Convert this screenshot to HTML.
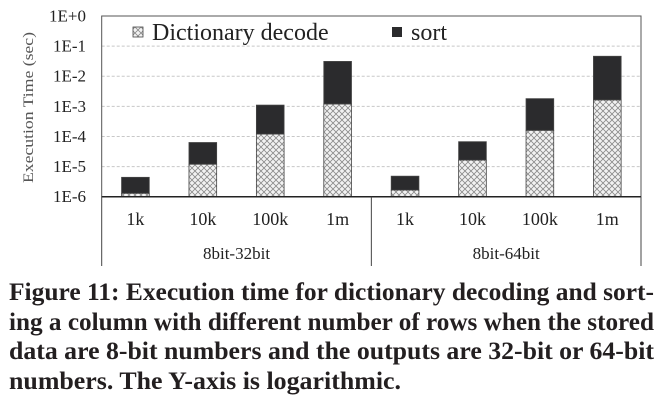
<!DOCTYPE html>
<html><head><meta charset="utf-8"><style>
body{margin:0;background:#fff;width:660px;height:418px;overflow:hidden;position:relative;font-family:"Liberation Serif",serif}
.cap{position:absolute;left:9px;font-weight:bold;font-size:25px;color:#231f20;white-space:nowrap;transform-origin:0 0;line-height:30px}
</style></head><body>
<svg id="chart" width="660" height="270" style="position:absolute;left:0;top:0" font-family="Liberation Serif, serif">
<defs>
<pattern id="hatch" width="6" height="6" patternUnits="userSpaceOnUse">
<rect width="6" height="6" fill="#f2f2f2"/>
<path d="M0,0L6,6M6,0L0,6" stroke="#8a8a8a" stroke-width="0.8"/>
</pattern>
</defs>
<g id="grid"></g>
<g id="bars"></g>
<g id="axes"></g>
</svg>
<div class="cap" style="top:278px">Figure 11: Execution time for dictionary decoding and sort-</div>
<div class="cap" style="top:307.5px">ing a column with different number of rows when the stored</div>
<div class="cap" style="top:337px">data are 8-bit numbers and the outputs are 32-bit or 64-bit</div>
<div class="cap" style="top:366.5px">numbers. The Y-axis is logarithmic.</div>
<script>
const categories=["1k","10k","100k","1m","1k","10k","100k","1m"];
const groups=["8bit-32bit","8bit-64bit"];
const dictValues=[1.3e-6,1.2e-5,1.2e-4,1.2e-3,1.66e-6,1.64e-5,1.6e-4,1.64e-3];
const sortValues=[3.1e-6,5.1e-5,9.8e-4,2.98e-2,3.14e-6,5.06e-5,1.64e-3,4.44e-2];
const tickLabels=["1E-6","1E-5","1E-4","1E-3","1E-2","1E-1","1E+0"];
const tickValues=[1e-6,1e-5,1e-4,1e-3,1e-2,1e-1,1];

const NS="http://www.w3.org/2000/svg";
const L=101.7,R=641,T=16,B=196.7;
function y(v){return B-(Math.log10(v)+6)/6*(B-T);}
const step=(R-L)/categories.length;
function xc(i){return L+step*(i+0.5);}
function mk(tag,attrs,parent,text){const e=document.createElementNS(NS,tag);for(const k in attrs)e.setAttribute(k,attrs[k]);if(text!=null)e.textContent=text;parent.appendChild(e);return e;}
const grid=document.getElementById('grid'),bars=document.getElementById('bars'),axes=document.getElementById('axes');
tickValues.forEach((v,i)=>{
  if(i>0&&i<tickValues.length-1){const g=mk('line',{x1:L,x2:R,y1:y(v),y2:y(v),stroke:'#c8c8c8','stroke-dasharray':'3,2','stroke-width':1},grid);
  
  }
  const t=mk('text',{x:86,y:y(v)+5.5,'text-anchor':'end','font-size':17,fill:'#222'},axes,tickLabels[i]);
  
  
});
const bw=27.7;
categories.forEach((c,i)=>{
  const d=dictValues[i],s=sortValues[i];
  const r1=mk('rect',{x:xc(i)-bw/2,y:y(d),width:bw,height:B-y(d),fill:'url(#hatch)',stroke:'#444','stroke-width':0.8},bars);
  
  
  const r2=mk('rect',{x:xc(i)-bw/2,y:y(d+s),width:bw,height:y(d)-y(d+s),fill:'#2b2b2d',stroke:'#444','stroke-width':0.8},bars);
  
  
  const t=mk('text',{x:xc(i),y:225,'text-anchor':'middle','font-size':18,fill:'#222'},axes,c);
  
  
});
groups.forEach((g,j)=>{
  const t=mk('text',{x:L+step*4*(j+0.5),y:259,'text-anchor':'middle','font-size':17,fill:'#222'},axes,g);
  
  
});
mk('rect',{x:L,y:T,width:R-L,height:B-T,fill:'none',stroke:'#555','stroke-width':1},axes);
mk('line',{x1:L,x2:R,y1:B,y2:B,stroke:'#222','stroke-width':1.5},axes);
[L,L+step*4,R].forEach(x=>{const l=mk('line',{x1:x,x2:x,y1:B,y2:266,stroke:'#444','stroke-width':1},axes);

});
const yt=mk('text',{transform:'translate(33,107.5) rotate(-90)','text-anchor':'middle','font-size':15,fill:'#555',textLength:151,lengthAdjust:'spacingAndGlyphs'},axes,'Execution Time (sec)');


// legend
const lg=mk('g',{},axes);


mk('rect',{x:133,y:27,width:10,height:10,fill:'url(#hatch)',stroke:'#444','stroke-width':0.8},lg);
mk('text',{x:152,y:40,'font-size':24,fill:'#222'},lg,'Dictionary decode');
mk('rect',{x:392,y:27,width:10,height:10,fill:'#2b2b2d'},lg);
mk('text',{x:411,y:40,'font-size':24,fill:'#222'},lg,'sort');
// caption justify
document.querySelectorAll('.cap').forEach((c,i)=>{
  const w=c.getBoundingClientRect().width;
  const target=i<3?645:(392);
  c.style.transform='scaleX('+(target/w)+')';
});
</script>
</body></html>
